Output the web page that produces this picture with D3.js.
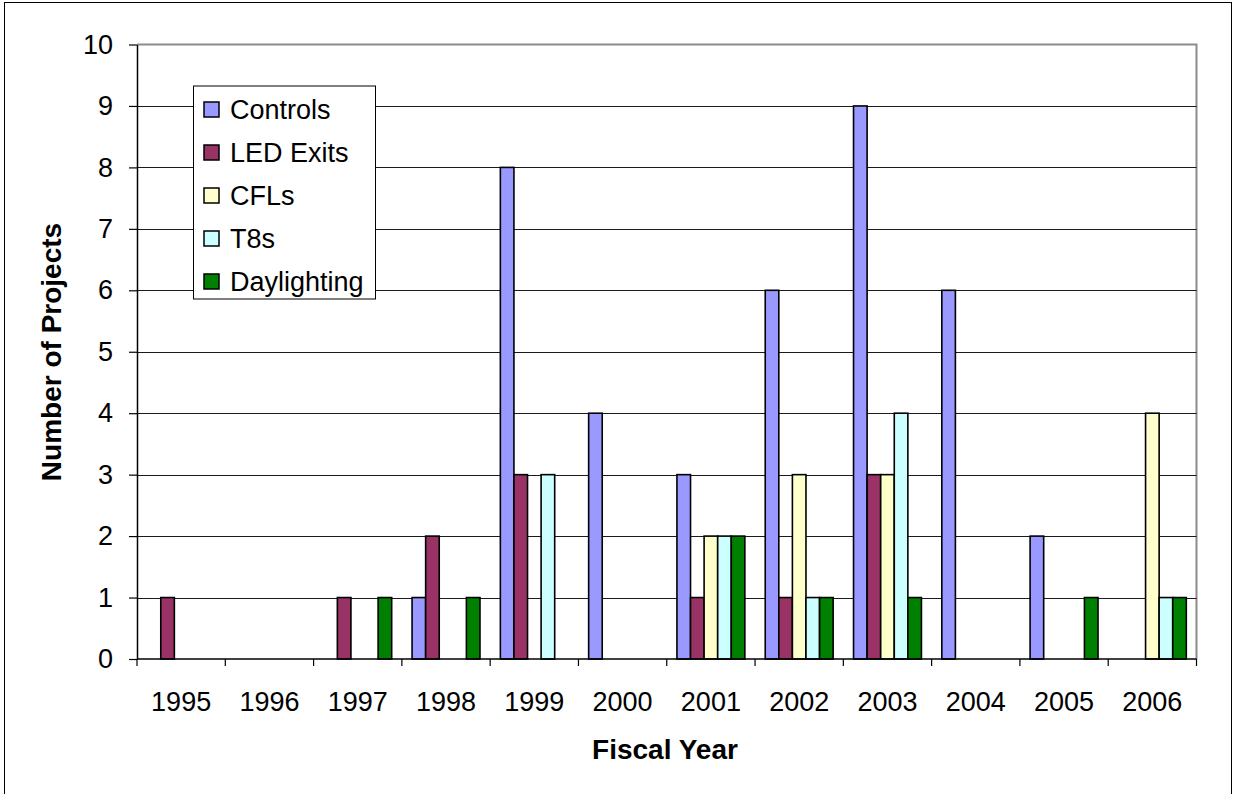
<!DOCTYPE html>
<html>
<head>
<meta charset="utf-8">
<script src="https://cdn.jsdelivr.net/npm/d3@7"></script>
<style>
  html, body { margin: 0; padding: 0; background: #fff; }
  svg { display: block; font-family: "Liberation Sans", Arial, sans-serif; }
</style>
</head>
<body>
<svg id="chart" width="1233" height="794"></svg>
<script>
// Lighting retrofit projects per fiscal year, by measure type
const years = ["1995", "1996", "1997", "1998", "1999", "2000", "2001", "2002", "2003", "2004", "2005", "2006"];
const seriesNames = ["Controls", "LED Exits", "CFLs", "T8s", "Daylighting"];
const controls    = [0, 0, 0, 1, 8, 4, 3, 6, 9, 6, 2, 0];
const ledExits    = [1, 0, 1, 2, 3, 0, 1, 1, 3, 0, 0, 0];
const cfls        = [0, 0, 0, 0, 0, 0, 2, 3, 3, 0, 0, 4];
const t8s         = [0, 0, 0, 0, 3, 0, 2, 1, 4, 0, 0, 1];
const daylighting = [0, 0, 1, 1, 0, 0, 2, 1, 1, 0, 1, 1];
const yTicks = [0, 1, 2, 3, 4, 5, 6, 7, 8, 9, 10];
const colors = ["#9999FF", "#993366", "#FFFFCC", "#CCFFFF", "#008000"];

const seriesValues = [controls, ledExits, cfls, t8s, daylighting];
const rows = [];
years.forEach((yr, i) => {
  seriesNames.forEach((s, j) => {
    rows.push({ year: yr, series: s, value: seriesValues[j][i], color: colors[j] });
  });
});

const svg = d3.select("#chart");
const fontSize = 27;
const titleSize = 28;

// outer chart frame
svg.append("rect")
  .attr("x", 4.5).attr("y", 2.5)
  .attr("width", 1227).attr("height", 800)
  .attr("fill", "#fff").attr("stroke", "#000").attr("stroke-width", 1);

const plotLeft = 137, plotRight = 1196.5, plotTop = 44.5, plotBottom = 659;

const x0 = d3.scaleBand().domain(years).range([plotLeft, plotRight]).paddingInner(0).paddingOuter(0);
const x1 = d3.scaleBand().domain(seriesNames).range([0, x0.bandwidth()]).paddingInner(0).paddingOuter(0.75);
const y = d3.scaleLinear().domain([0, 10]).range([plotBottom, plotTop]);

// plot area border (top and right)
svg.append("path")
  .attr("d", `M${plotLeft},${plotTop}H${plotRight}V${plotBottom}`)
  .attr("fill", "none").attr("stroke", "#8c8c8c").attr("stroke-width", 2);

// horizontal gridlines
svg.append("g")
  .selectAll("line")
  .data(yTicks.filter(t => t > 0 && t < 10))
  .join("line")
  .attr("x1", plotLeft).attr("x2", plotRight)
  .attr("y1", d => Math.round(y(d)) + 0.5).attr("y2", d => Math.round(y(d)) + 0.5)
  .attr("stroke", "#1a1a1a").attr("stroke-width", 1);

// bars
svg.append("g")
  .selectAll("rect")
  .data(rows.filter(d => d.value > 0))
  .join("rect")
  .attr("x", d => x0(d.year) + x1(d.series))
  .attr("y", d => y(d.value))
  .attr("width", x1.bandwidth())
  .attr("height", d => y(0) - y(d.value))
  .attr("fill", d => d.color)
  .attr("stroke", "#000").attr("stroke-width", 1.6);

// y axis
const yAxis = svg.append("g")
  .attr("transform", `translate(${plotLeft},0)`)
  .call(d3.axisLeft(y).tickValues(yTicks).tickFormat(d3.format("d")).tickSize(8).tickPadding(16).tickSizeOuter(0));
yAxis.select(".domain").attr("stroke", "#000").attr("stroke-width", 1.5);
yAxis.selectAll(".tick line").attr("stroke", "#000").attr("stroke-width", 1.2);
yAxis.selectAll(".tick text")
  .attr("font-size", fontSize).attr("font-family", "Liberation Sans, Arial, sans-serif").attr("fill", "#000");

// x axis: baseline, boundary ticks and centred year labels
const xAxis = svg.append("g").attr("transform", `translate(0,${plotBottom})`);
xAxis.append("line")
  .attr("x1", plotLeft).attr("x2", plotRight).attr("y1", 0).attr("y2", 0)
  .attr("stroke", "#000").attr("stroke-width", 1.5);
const boundaries = years.map(yr => x0(yr)).concat([plotRight]);
xAxis.selectAll("line.tick")
  .data(boundaries)
  .join("line")
  .attr("class", "tick")
  .attr("x1", d => d).attr("x2", d => d)
  .attr("y1", 0).attr("y2", 7)
  .attr("stroke", "#000").attr("stroke-width", 1.2);
xAxis.selectAll("text")
  .data(years)
  .join("text")
  .attr("x", d => x0(d) + x0.bandwidth() / 2)
  .attr("y", 52)
  .attr("text-anchor", "middle")
  .attr("font-size", fontSize)
  .attr("fill", "#000")
  .text(d => d);

// axis titles
svg.append("text")
  .attr("x", 665).attr("y", 759)
  .attr("text-anchor", "middle")
  .attr("font-size", titleSize).attr("font-weight", "bold")
  .text("Fiscal Year");
svg.append("text")
  .attr("transform", "translate(61,352) rotate(-90)")
  .attr("text-anchor", "middle")
  .attr("font-size", titleSize).attr("font-weight", "bold")
  .text("Number of Projects");

// legend
const legend = svg.append("g");
legend.append("rect")
  .attr("x", 193.5).attr("y", 86)
  .attr("width", 182).attr("height", 213)
  .attr("fill", "#fff").attr("stroke", "#000").attr("stroke-width", 1);
const item = legend.selectAll("g.item")
  .data(seriesNames)
  .join("g")
  .attr("class", "item")
  .attr("transform", (d, i) => `translate(0,${109.5 + i * 43})`);
item.append("rect")
  .attr("x", 204).attr("y", -7.5)
  .attr("width", 15).attr("height", 15)
  .attr("fill", (d, i) => colors[i])
  .attr("stroke", "#000").attr("stroke-width", 1.5);
item.append("text")
  .attr("x", 230).attr("y", 9.5)
  .attr("font-size", fontSize)
  .attr("fill", "#000")
  .text(d => d);
</script>
</body>
</html>
